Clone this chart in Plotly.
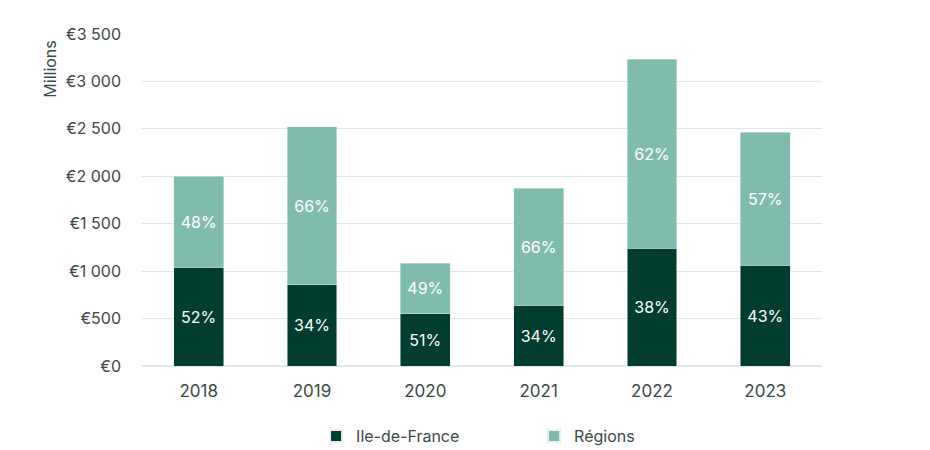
import plotly.graph_objects as go

years = ["2018", "2019", "2020", "2021", "2022", "2023"]
idf = [1040, 857, 553, 640, 1240, 1062]
regions = [960, 1663, 532, 1236, 1995, 1404]
idf_pct = ["52%", "34%", "51%", "34%", "38%", "43%"]
reg_pct = ["48%", "66%", "49%", "66%", "62%", "57%"]
tick_vals = [0, 500, 1000, 1500, 2000, 2500, 3000, 3500]
tick_text = ["€0", "€500", "€1 000", "€1 500", "€2 000", "€2 500", "€3 000", "€3 500"]

dark = "#003D2F"
light = "#80BCAD"
txt = "#3B4A47"
font = "Inter, Roboto, sans-serif"

fig = go.Figure()
fig.add_bar(x=years, y=idf, name="Ile-de-France", marker_color=dark,
            text=idf_pct, textposition="inside", insidetextanchor="middle",
            textfont=dict(color="white", size=16, family=font), hoverinfo="skip")
fig.add_bar(x=years, y=regions, name="Régions", marker_color=light,
            text=reg_pct, textposition="inside", insidetextanchor="middle",
            textfont=dict(color="white", size=16, family=font), hoverinfo="skip")

fig.update_layout(
    barmode="stack",
    bargap=0.56,
    width=930, height=450,
    margin=dict(l=142, r=108, t=34, b=84, autoexpand=False),
    plot_bgcolor="white", paper_bgcolor="white",
    font=dict(family=font, color=txt, size=16),
    uniformtext=dict(mode="show", minsize=16),
    legend=dict(orientation="h", x=0.256, xanchor="left",
                yref="container", y=0.031, yanchor="middle",
                traceorder="normal",
                entrywidth=173, entrywidthmode="pixels",
                font=dict(size=16, color=txt), itemsizing="constant"),
    showlegend=True,
)
fig.update_xaxes(showline=False, ticks="", ticklabelstandoff=13,
                 tickfont=dict(size=17, color=txt))
fig.update_yaxes(range=[0, 3500], tickvals=tick_vals, ticktext=tick_text,
                 showgrid=True, gridcolor="#DFE8E5", gridwidth=1, zeroline=True,
                 zerolinecolor="#DFE8E5", ticks="", ticklabelstandoff=20,
                 tickfont=dict(size=16, color=txt))
fig.add_annotation(text="Millions", textangle=-90, xref="paper", yref="paper",
                   x=-0.135, y=0.985, xanchor="center", yanchor="top", showarrow=False,
                   font=dict(size=16, color=txt))

fig.write_html("out.html")
